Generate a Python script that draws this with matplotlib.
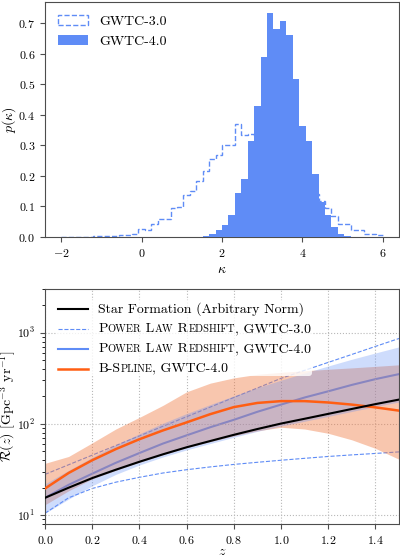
import numpy as np
import matplotlib
matplotlib.use('Agg')
import matplotlib.pyplot as plt
import matplotlib.patches as mpatches
from matplotlib.lines import Line2D
from matplotlib.offsetbox import AnchoredOffsetbox, DrawingArea, HPacker, VPacker, TextArea

plt.rcParams['font.family'] = 'serif'
plt.rcParams['font.serif'] = ['cmr10']
plt.rcParams['mathtext.fontset'] = 'cm'
plt.rcParams['axes.formatter.use_mathtext'] = True

# ---- top panel: p(kappa), 50 bins of width 0.16 between -2 and 6
kappa_edges = np.linspace(-2, 6, 51)
gwtc3_density = [0.000, 0.001, 0.001, 0.001, 0.001, 0.002, 0.003, 0.004, 0.004, 0.005,
                 0.008, 0.011, 0.026, 0.022, 0.042, 0.060, 0.058, 0.095, 0.098, 0.138,
                 0.152, 0.185, 0.216, 0.256, 0.269, 0.300, 0.300, 0.369, 0.335, 0.338,
                 0.330, 0.320, 0.300, 0.290, 0.270, 0.250, 0.220, 0.190, 0.170, 0.140,
                 0.118, 0.096, 0.068, 0.044, 0.044, 0.024, 0.024, 0.011, 0.011, 0.005]
gwtc4_density = [0.000, 0.000, 0.000, 0.000, 0.000, 0.000, 0.000, 0.000, 0.000, 0.000,
                 0.000, 0.000, 0.000, 0.000, 0.000, 0.000, 0.000, 0.000, 0.000, 0.000,
                 0.000, 0.001, 0.002, 0.010, 0.024, 0.039, 0.073, 0.144, 0.189, 0.315,
                 0.430, 0.591, 0.733, 0.681, 0.707, 0.663, 0.517, 0.365, 0.316, 0.207,
                 0.115, 0.071, 0.033, 0.011, 0.004, 0.001, 0.000, 0.000, 0.000, 0.000]

# ---- bottom panel: merger rate vs redshift
z = [0.0, 0.1, 0.2, 0.3, 0.4, 0.5, 0.6, 0.7, 0.8, 0.9, 1.0, 1.1, 1.2, 1.3, 1.4, 1.5]
sfr = [15.5, 20.0, 25.5, 31.5, 38.5, 46.5, 55.5, 65.0, 76.0, 88.0, 101.0, 114.0, 129.0, 146.0, 165.0, 185.0]
pl3_hi = [28.0, 35.7, 45.5, 58.0, 74.0, 94.4, 120.0, 153.0, 195.0, 248.0, 316.0, 387.0, 473.0, 578.0, 708.0, 865.0]
pl3_lo = [10.5, 15.5, 19.6, 23.0, 26.0, 29.0, 31.5, 33.8, 36.0, 38.0, 40.0, 42.0, 44.0, 45.8, 47.5, 49.4]
pl4_med = [15.5, 21.5, 28.5, 37.5, 48.0, 61.0, 75.0, 92.0, 111.0, 136.0, 163.0, 195.0, 228.0, 268.0, 310.0, 352.0]
pl4_lo = [10.5, 15.0, 21.0, 28.0, 35.5, 43.5, 52.0, 61.0, 71.5, 83.0, 95.0, 107.0, 121.0, 137.0, 155.0, 174.0]
pl4_hi = [22.0, 31.0, 43.0, 59.0, 78.0, 102.0, 130.0, 163.0, 203.0, 250.0, 302.0, 362.0, 432.0, 512.0, 600.0, 700.0]
spline_med = [19.6, 29.0, 40.0, 53.0, 68.0, 85.0, 104.0, 128.0, 153.0, 170.0, 178.0, 178.0, 172.0, 163.0, 152.0, 140.0]
spline_lo = [13.0, 18.5, 25.0, 31.0, 38.0, 46.0, 55.0, 64.0, 74.0, 84.0, 92.0, 88.0, 79.0, 67.0, 54.0, 41.0]
spline_hi = [37.0, 44.0, 62.0, 88.0, 118.0, 160.0, 225.0, 280.0, 320.0, 350.0, 368.0, 383.0, 398.0, 412.0, 428.0, 445.0]

blue = '#5f8cf6'
orange = '#ff5e13'

fig = plt.figure(figsize=(4, 5.59), dpi=100)
ax1 = fig.add_axes([0.1125, 0.576, 0.885, 0.4204])
ax2 = fig.add_axes([0.1125, 0.0626, 0.885, 0.42])

# top panel
ax1.stairs(gwtc3_density, kappa_edges, color=blue, linestyle='--', linewidth=1.0)
ax1.bar(kappa_edges[:-1], gwtc4_density, width=np.diff(kappa_edges), align='edge',
        color=blue, linewidth=0, zorder=3)
ax1.set_xticks([-2, 0, 2, 4, 6])
ax1.set_xlabel(r'$\kappa$', fontsize=10)
ax1.set_ylabel(r'$p(\kappa)$', fontsize=10)
ax1.yaxis.set_label_coords(-0.076, 0.5)
top_handles = [mpatches.Patch(facecolor='none', edgecolor=blue, linestyle='--', linewidth=1.0),
               mpatches.Patch(facecolor=blue, edgecolor='none')]
ax1.legend(top_handles, ['GWTC-3.0', 'GWTC-4.0'], loc='upper left', frameon=False,
           fontsize=10, handlelength=2.2, handleheight=0.8)

# bottom panel: lines of the power law sit under both bands, the blue band on top of the orange one
ax2.plot(z, pl4_med, color=blue, linewidth=1.5, zorder=1.5)
ax2.plot(z, pl3_hi, color=blue, linestyle='--', linewidth=0.8, zorder=1.5)
ax2.plot(z, pl3_lo, color=blue, linestyle='--', linewidth=0.8, zorder=1.5)
ax2.fill_between(z, spline_lo, spline_hi, color='#f07840', alpha=0.42, linewidth=0, zorder=2)
ax2.fill_between(z, pl4_lo, pl4_hi, color=blue, alpha=0.3, linewidth=0, zorder=2.5)
ax2.plot(z, spline_med, color=orange, linewidth=1.8, zorder=3)
ax2.plot(z, sfr, color='black', linewidth=1.5, zorder=3)
ax2.set_yscale('log')
ax2.set_xlim(0, 1.5)
ax2.set_ylim(8, 3000)
ax2.set_xticks(np.arange(0, 1.41, 0.2))
ax2.grid(True, which='major', linestyle=':', color='#b8b8b8', linewidth=0.8)
ax2.set_xlabel(r'$z$', fontsize=10, labelpad=0)
ax2.set_ylabel(r'$\mathcal{R}(z)$ [Gpc$^{-3}$ yr$^{-1}$]', fontsize=10)
ax2.yaxis.set_label_coords(-0.076, 0.5)

for ax in (ax1, ax2):
    for s in ax.spines.values():
        s.set_color('0.3')
    ax.tick_params(colors='0.3', labelcolor='black', labelsize=8.6)


# bottom legend built by hand so the small caps can be drawn
def legend_row(line_kw, pieces):
    da = DrawingArea(22, 7, 0, 0)
    da.add_artist(Line2D([0, 22], [3.5, 3.5], **line_kw))
    parts = [TextArea(s, textprops=dict(size=size)) for s, size in pieces]
    label = HPacker(children=parts, align='baseline', pad=0, sep=0)
    return HPacker(children=[da, label], align='center', pad=0, sep=7.5)


big, small = 10, 7.5
rows = [
    legend_row(dict(color='black', linewidth=1.5),
               [('Star Formation (Arbitrary Norm)', big)]),
    legend_row(dict(color=blue, linestyle='--', linewidth=0.8),
               [('P', big), ('OWER', small), (' L', big), ('AW', small), (' R', big),
                ('EDSHIFT', small), (', GWTC-3.0', big)]),
    legend_row(dict(color=blue, linewidth=1.5),
               [('P', big), ('OWER', small), (' L', big), ('AW', small), (' R', big),
                ('EDSHIFT', small), (', GWTC-4.0', big)]),
    legend_row(dict(color=orange, linewidth=1.8),
               [('B-S', big), ('PLINE', small), (', GWTC-4.0', big)]),
]
box = AnchoredOffsetbox(loc='upper left', child=VPacker(children=rows, align='left', pad=0, sep=5.5),
                        pad=0.1, borderpad=0.8, frameon=True, prop=dict(size=10))
box.patch.set_boxstyle('round,pad=0,rounding_size=0.2')
box.patch.set_facecolor('white')
box.patch.set_edgecolor('none')
box.patch.set_alpha(0.8)
box.set_zorder(5)
ax2.add_artist(box)

fig.savefig('out.png', dpi=100)
